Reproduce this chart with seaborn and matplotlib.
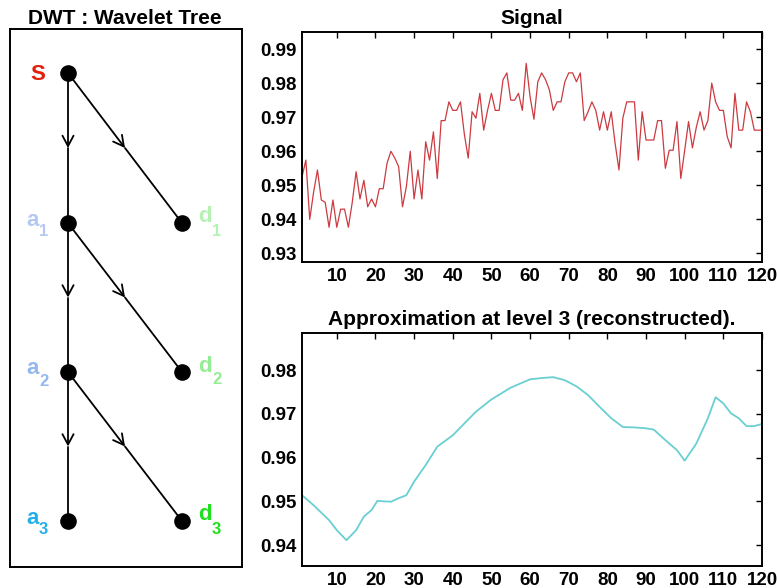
import numpy as np
import pandas as pd
import matplotlib
matplotlib.use("Agg")
import matplotlib.pyplot as plt
import seaborn as sns

# ---------------- data ----------------
signal_values = [
    0.9525, 0.9574, 0.9400, 0.9480, 0.9545, 0.9457, 0.9450, 0.9377, 0.9457, 0.9377,
    0.9430, 0.9430, 0.9377, 0.9450, 0.9540, 0.9460, 0.9515, 0.9437, 0.9460, 0.9437,
    0.9490, 0.9490, 0.9565, 0.9600, 0.9580, 0.9555, 0.9437, 0.9496, 0.9600, 0.9460,
    0.9545, 0.9460, 0.9628, 0.9574, 0.9657, 0.9520, 0.9690, 0.9690, 0.9745, 0.9720,
    0.9720, 0.9745, 0.9650, 0.9580, 0.9716, 0.9697, 0.9770, 0.9662, 0.9720, 0.9770,
    0.9720, 0.9720, 0.9810, 0.9830, 0.9750, 0.9750, 0.9770, 0.9720, 0.9858, 0.9760,
    0.9694, 0.9804, 0.9830, 0.9810, 0.9780, 0.9720, 0.9745, 0.9745, 0.9804, 0.9830,
    0.9830, 0.9804, 0.9830, 0.9690, 0.9716, 0.9745, 0.9720, 0.9662, 0.9716, 0.9662,
    0.9716, 0.9623, 0.9545, 0.9697, 0.9745, 0.9745, 0.9745, 0.9574, 0.9716, 0.9633,
    0.9633, 0.9633, 0.9690, 0.9690, 0.9550, 0.9603, 0.9603, 0.9687, 0.9520, 0.9603,
    0.9687, 0.9610, 0.9670, 0.9716, 0.9662, 0.9690, 0.9800, 0.9745, 0.9720, 0.9720,
    0.9643, 0.9610, 0.9770, 0.9662, 0.9662, 0.9745, 0.9716, 0.9662, 0.9662, 0.9662,
]
signal_index = list(range(1, len(signal_values) + 1))

approx_index = [1, 4, 8, 10, 12.5, 15, 17, 19, 20.5, 22, 24, 26, 28, 30, 33, 36, 40,
                43, 46, 50, 55, 60, 63, 66, 69, 72, 75, 78, 81, 84, 87, 90, 92, 95,
                98, 100, 103, 106, 108, 110, 112, 114, 116, 118, 120]
approx_values = [0.9514, 0.9491, 0.9457, 0.9434, 0.9411, 0.9434, 0.9465, 0.9480,
                 0.9501, 0.9500, 0.9499, 0.9507, 0.9514, 0.9545, 0.9583, 0.9625,
                 0.9651, 0.9678, 0.9705, 0.9733, 0.9760, 0.9779, 0.9782, 0.9784,
                 0.9777, 0.9763, 0.9743, 0.9716, 0.9690, 0.9670, 0.9669, 0.9667,
                 0.9664, 0.9640, 0.9617, 0.9593, 0.9632, 0.9690, 0.9738, 0.9724,
                 0.9701, 0.9690, 0.9672, 0.9672, 0.9677]

x_ticks = [10, 20, 30, 40, 50, 60, 70, 80, 90, 100, 110, 120]
signal_yticks = [0.93, 0.94, 0.95, 0.96, 0.97, 0.98, 0.99]
approx_yticks = [0.94, 0.95, 0.96, 0.97, 0.98]

tree_labels = ["S", "a", "a", "a", "d", "d", "d"]
tree_subs = ["", "1", "2", "3", "1", "2", "3"]
tree_colors = ["#e0200c", "#b4c8f2", "#94b8ee", "#22b0ea", "#b4f2b4", "#94ec94", "#1ee01e"]

# ---------------- style ----------------
sns.set_style("white")
plt.rcParams["font.family"] = ["Liberation Sans", "DejaVu Sans"]
plt.rcParams["font.weight"] = "bold"
plt.rcParams["text.color"] = "black"
plt.rcParams["axes.labelcolor"] = "black"
plt.rcParams["axes.titlecolor"] = "black"
plt.rcParams["xtick.color"] = "black"
plt.rcParams["ytick.color"] = "black"

fig = plt.figure(figsize=(7.77, 5.88), dpi=100)
W, H = 777, 588

def fig_rect(x0, y0, x1, y1):
    return [x0 / W, 1 - y1 / H, (x1 - x0) / W, (y1 - y0) / H]

def style_axes(ax):
    for s in ax.spines.values():
        s.set_visible(True)
        s.set_linewidth(1.4)
        s.set_color("black")
    ax.tick_params(direction="in", length=4, width=1, top=True, right=True,
                   labelsize=13.5, colors="black", pad=4)
    for lab in ax.get_xticklabels() + ax.get_yticklabels():
        lab.set_fontweight("bold")

# ---------------- wavelet tree ----------------
ax0 = fig.add_axes(fig_rect(10, 29, 242, 567))
ax0.set_xlim(10, 242)
ax0.set_ylim(567, 29)
ax0.set_xticks([])
ax0.set_yticks([])
for s in ax0.spines.values():
    s.set_visible(True)
    s.set_linewidth(1.4)
    s.set_color("black")

nodes = {"S": (68, 73), "a1": (68, 223), "a2": (68, 372), "a3": (68, 521),
         "d1": (182, 223), "d2": (182, 372), "d3": (182, 521)}
edges = [("S", "a1"), ("S", "d1"), ("a1", "a2"), ("a1", "d2"), ("a2", "a3"), ("a2", "d3")]
for a, b in edges:
    (x0, y0), (x1, y1) = nodes[a], nodes[b]
    mx, my = (x0 + x1) / 2, (y0 + y1) / 2
    ax0.annotate("", xy=(mx, my), xytext=(x0, y0),
                 arrowprops=dict(arrowstyle="->,head_length=0.75,head_width=0.4",
                                 color="black", lw=1.3, shrinkA=0, shrinkB=0,
                                 mutation_scale=10))
    ax0.plot([mx, x1], [my, y1], color="black", lw=1.3)

keys = ["S", "a1", "a2", "a3", "d1", "d2", "d3"]
nx = [nodes[k][0] for k in keys]
ny = [nodes[k][1] for k in keys]
ax0.scatter(nx, ny, s=120, color="black", zorder=5)

for k, lab, sub, col in zip(keys, tree_labels, tree_subs, tree_colors):
    x, y = nodes[k]
    if k == "S":
        ax0.text(x - 30, y + 1, lab, color=col, fontsize=16, fontweight="bold",
                 ha="center", va="center")
    elif k.startswith("a"):
        ax0.text(x - 29, y - 3, lab, color=col, fontsize=16, fontweight="bold",
                 ha="right", va="center")
        ax0.text(x - 29, y + 9, sub, color=col, fontsize=12, fontweight="bold",
                 ha="left", va="center")
    else:
        ax0.text(x + 16, y - 6, lab, color=col, fontsize=16, fontweight="bold",
                 ha="left", va="center")
        ax0.text(x + 30, y + 8, sub, color=col, fontsize=12, fontweight="bold",
                 ha="left", va="center")

fig.text(125 / W, 1 - 18 / H, "DWT : Wavelet Tree", ha="center", va="center",
         fontsize=15, fontweight="bold", color="black")

# ---------------- signal ----------------
ax1 = fig.add_axes(fig_rect(302, 32, 762, 262))
df_sig = pd.DataFrame({"n": signal_index, "value": signal_values})
sns.lineplot(data=df_sig, x="n", y="value", ax=ax1, color="#cc3a40", lw=0.9)
ax1.set_xlim(1, 120)
ax1.set_ylim(0.9275, 0.995)
ax1.set_xticks(x_ticks)
ax1.set_yticks(signal_yticks)
ax1.set_yticklabels([f"{v:.2f}" for v in signal_yticks])
ax1.set_xlabel("")
ax1.set_ylabel("")
ax1.set_title("Signal", fontsize=15, fontweight="bold", pad=6, color="black")
style_axes(ax1)

# ---------------- approximation ----------------
ax2 = fig.add_axes(fig_rect(302, 333, 762, 566))
df_app = pd.DataFrame({"n": approx_index, "value": approx_values})
sns.lineplot(data=df_app, x="n", y="value", ax=ax2, color="#6acfd2", lw=1.3)
ax2.set_xlim(1, 120)
ax2.set_ylim(0.9352, 0.9885)
ax2.set_xticks(x_ticks)
ax2.set_yticks(approx_yticks)
ax2.set_yticklabels([f"{v:.2f}" for v in approx_yticks])
ax2.set_xlabel("")
ax2.set_ylabel("")
ax2.set_title("Approximation at level 3 (reconstructed).", fontsize=15,
              fontweight="bold", pad=6, color="black")
style_axes(ax2)

fig.savefig("out.png", dpi=100)
